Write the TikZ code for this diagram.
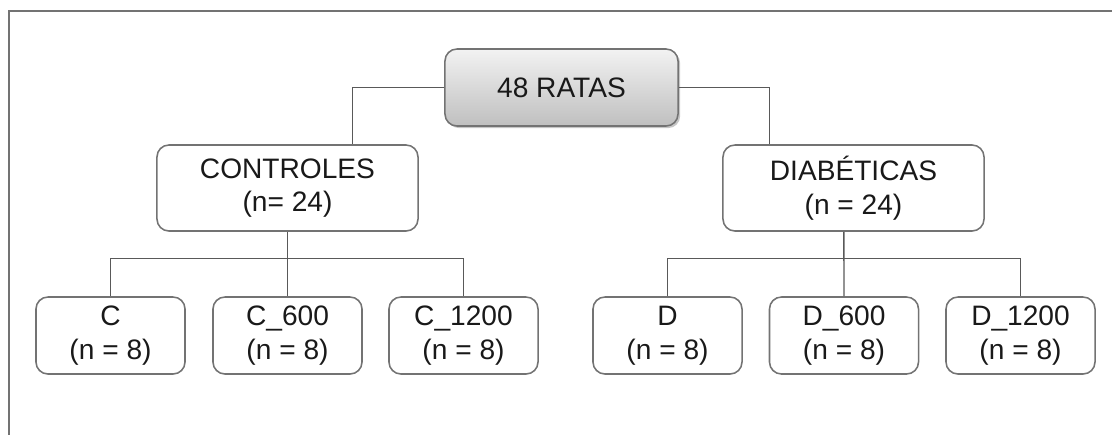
\documentclass[tikz,border=0pt]{standalone}
\usepackage{fontspec}
\setmainfont{Liberation Sans}
\usepackage{tikz}
\usetikzlibrary{positioning, shadows}
\tikzset{
	groupbox/.style={draw=black!55, line width=1.1pt, rounded corners=0.3cm, fill=white, inner sep=0pt, align=center, text=black!90, font=\fontsize{20}{24}\selectfont}
}
\tikzset{
	link/.style={draw=black!65, line width=1pt}
}

\begin{document}
\begin{tikzpicture}[x=0.025cm, y=-0.025cm, >=stealth]
      \useasboundingbox (0,0) rectangle (1112,435);
      \draw[black!55, line width=1.4pt] (1112,11) -- (9,11) -- (9,435);
      \node[groupbox, top color=black!5, bottom color=black!25, drop shadow={shadow xshift=1.5pt, shadow yshift=-1.5pt, opacity=0.45}, minimum width=5.825cm, minimum height=1.925cm] (ratas) at (561.5,87.5) {48 RATAS};
      \node[groupbox, minimum width=6.525cm, minimum height=2.15cm] (ctrl) at (287.5,188) {CONTROLES\\(n= 24)};
      \node[groupbox, minimum width=6.525cm, minimum height=2.15cm] (diab) at (853.5,188) {DIABÉTICAS\\(n = 24)};
      \node[groupbox, minimum width=3.725cm, minimum height=1.925cm] (c0) at (110.5,335.5) {C\\(n = 8)};
      \node[groupbox, minimum width=3.725cm, minimum height=1.925cm] (c600) at (287.5,335.5) {C\_600\\(n = 8)};
      \node[groupbox, minimum width=3.725cm, minimum height=1.925cm] (c1200) at (463.5,335.5) {C\_1200\\(n = 8)};
      \node[groupbox, minimum width=3.725cm, minimum height=1.925cm] (d0) at (667.5,335.5) {D\\(n = 8)};
      \node[groupbox, minimum width=3.725cm, minimum height=1.925cm] (d600) at (844,335.5) {D\_600\\(n = 8)};
      \node[groupbox, minimum width=3.725cm, minimum height=1.925cm] (d1200) at (1020.5,335.5) {D\_1200\\(n = 8)};
      \draw[link] (ratas.west) -| ([xshift=1.625cm]ctrl.north);
      \draw[link] (ratas.east) -| ([xshift=-2.1cm]diab.north);
      \draw[link] (ctrl.south) -- (c600.north);
      \draw[link] (c0.north) -- ++(0,-38) -| (c1200.north);
      \draw[link] ([xshift=-0.24cm]diab.south) -- (d600.north);
      \draw[link] (d0.north) -- ++(0,-38) -| (d1200.north);
    \end{tikzpicture}
\end{document}
